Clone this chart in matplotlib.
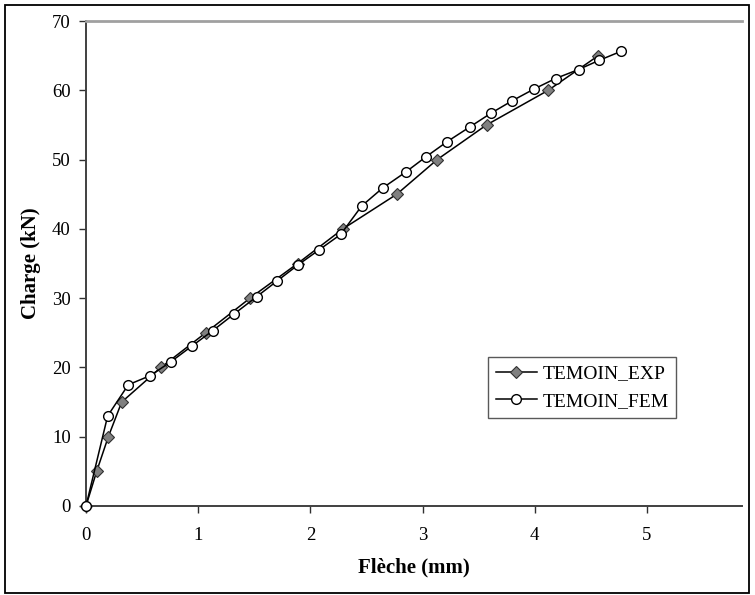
import matplotlib
matplotlib.use("Agg")
import matplotlib.pyplot as plt
from matplotlib.patches import Rectangle

# Load-deflection data: experimental test vs finite element model
exp_fleche = [0.0, 0.095, 0.199, 0.318, 0.668, 1.067, 1.462, 1.886, 2.29, 2.77, 3.13, 3.57, 4.12, 4.566]
exp_charge = [0, 5, 10, 15, 20, 25, 30, 35, 40, 45, 50, 55, 60, 65]

fem_fleche = [0.0, 0.193, 0.377, 0.570, 0.755, 0.945, 1.129, 1.319, 1.52, 1.705, 1.89, 2.08,
              2.27, 2.457, 2.644, 2.85, 3.03, 3.22, 3.42, 3.61, 3.80, 3.995, 4.185, 4.39,
              4.57, 4.765]
fem_charge = [0.0, 13.0, 17.5, 18.8, 20.8, 23.1, 25.3, 27.7, 30.2, 32.5, 34.8, 37.0,
              39.2, 43.3, 45.9, 48.2, 50.4, 52.6, 54.7, 56.7, 58.5, 60.2, 61.7, 63.0,
              64.3, 65.6]

x_ticks = [0, 1, 2, 3, 4, 5]
y_ticks = [0, 10, 20, 30, 40, 50, 60, 70]

plt.rcParams['font.family'] = ['Liberation Serif', 'DejaVu Serif']

W, H = 755, 595
fig = plt.figure(figsize=(W / 100, H / 100), dpi=100)
fig.patch.set_facecolor('white')

# outer chart frame
fig.patches.append(Rectangle((5 / W, 2 / H), 744 / W, 588 / H, transform=fig.transFigure,
                             fill=False, edgecolor='black', linewidth=1.3))

left, right, bottom, top = 86, 742, 595 - 506, 595 - 21
ax = fig.add_axes([left / W, bottom / H, (right - left) / W, (top - bottom) / H])

ax.plot(exp_fleche, exp_charge, color='black', linewidth=1.1, marker='D', markersize=6,
        markerfacecolor='#808080', markeredgecolor='#303030', markeredgewidth=0.8,
        label='TEMOIN_EXP', clip_on=False, zorder=3)
ax.plot(fem_fleche, fem_charge, color='black', linewidth=1.1, marker='o', markersize=7,
        markerfacecolor='white', markeredgecolor='black', markeredgewidth=1.0,
        label='TEMOIN_FEM', clip_on=False, zorder=4)

ax.set_xlim(0, (right - left) / 112.2)
ax.set_ylim(0, 70)
ax.set_xticks(x_ticks)
ax.set_yticks(y_ticks)
ax.tick_params(axis='both', direction='out', length=5, width=1.0, color='#303030',
               labelsize=13.5)
ax.tick_params(axis='y', pad=6)
ax.tick_params(axis='x', pad=10)

for side in ('left', 'bottom'):
    ax.spines[side].set_color('#404040')
    ax.spines[side].set_linewidth(1.4)
ax.spines['top'].set_color('#a0a0a0')
ax.spines['top'].set_linewidth(2.0)
ax.spines['right'].set_visible(False)

ax.set_xlabel('Flèche (mm)', fontsize=15, fontweight='bold', labelpad=10)
ax.set_ylabel('Charge (kN)', fontsize=15, fontweight='bold', labelpad=8)

leg = ax.legend(loc='upper left', bbox_to_anchor=((488 - left) / (right - left), (506 - 357) / 485),
                fontsize=14, frameon=True, fancybox=False, edgecolor='#303030',
                borderpad=0.4, handlelength=2.1, handletextpad=0.3, labelspacing=0.5,
                borderaxespad=0)
leg.get_frame().set_linewidth(1.0)

fig.savefig('out.png', dpi=100, facecolor='white')
